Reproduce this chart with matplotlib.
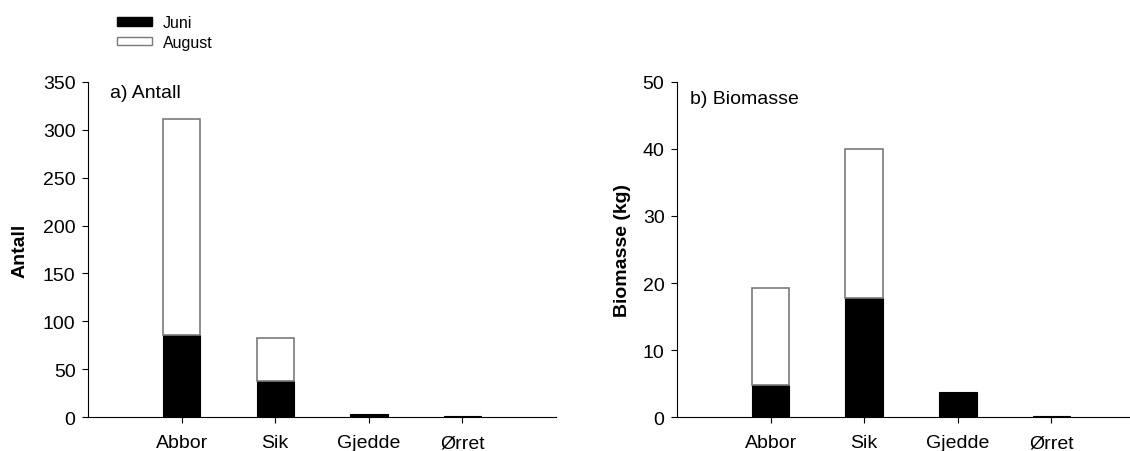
import numpy as np
import matplotlib
matplotlib.use("Agg")
import matplotlib.pyplot as plt
from matplotlib.patches import Patch

plt.rcParams["font.family"] = ["Liberation Sans", "DejaVu Sans"]

species = ["Abbor", "Sik", "Gjedde", "Ørret"]
antall_juni = [86, 38, 3, 1]
antall_august = [225, 45, 0, 0]
biomasse_juni = [4.75, 17.8, 3.75, 0.1]
biomasse_august = [14.45, 22.2, 0.0, 0.0]


def draw_panel(ax, juni, august, ymax, ystep, ylabel, label_x, tag, tag_x, tag_y):
    x = np.arange(1, len(species) + 1)
    juni = np.array(juni)
    august = np.array(august)
    ax.bar(x, juni, width=0.4, color="black", edgecolor="black", linewidth=0.8)
    has_aug = august > 0
    ax.bar(x[has_aug], august[has_aug], width=0.4, bottom=juni[has_aug],
           color="white", edgecolor="#7a7a7a", linewidth=1.2)
    ax.set_xlim(0, 5)
    ax.set_ylim(0, ymax)
    ax.set_yticks(np.arange(0, ymax + 1, ystep))
    ax.set_xticks(x)
    ax.set_xticklabels(species, fontsize=14)
    ax.tick_params(axis="y", labelsize=14, length=4, direction="out", pad=5)
    ax.tick_params(axis="x", length=4, direction="out", pad=8.5)
    for s in ("top", "right"):
        ax.spines[s].set_visible(False)
    ax.set_ylabel(ylabel, fontsize=14, fontweight="bold")
    ax.yaxis.set_label_coords(label_x, 0.5)
    ax.text(tag_x, tag_y, tag, transform=ax.transAxes, fontsize=14,
            va="center", ha="left")


fig = plt.figure(figsize=(11.3, 4.52), dpi=100)
ax1 = fig.add_axes([0.0779, 0.0752, 0.4142, 0.7412])
ax2 = fig.add_axes([0.5991, 0.0752, 0.4142, 0.7412])

draw_panel(ax1, antall_juni, antall_august, 350, 50, "Antall", -0.128,
           "a) Antall", 0.047, 0.97)
draw_panel(ax2, biomasse_juni, biomasse_august, 50, 10, "Biomasse (kg)", -0.098,
           "b) Biomasse", 0.028, 0.95)

handles = [Patch(facecolor="black", edgecolor="black", label="Juni"),
           Patch(facecolor="white", edgecolor="#7a7a7a", label="August")]
fig.legend(handles=handles, loc="upper left", bbox_to_anchor=(117 / 1130, 1 - 16 / 452),
           frameon=False, fontsize=11.5, handlelength=2.2, handleheight=0.45,
           handletextpad=0.65, labelspacing=0.3, borderpad=0, borderaxespad=0)

fig.savefig("out.png", dpi=100)
